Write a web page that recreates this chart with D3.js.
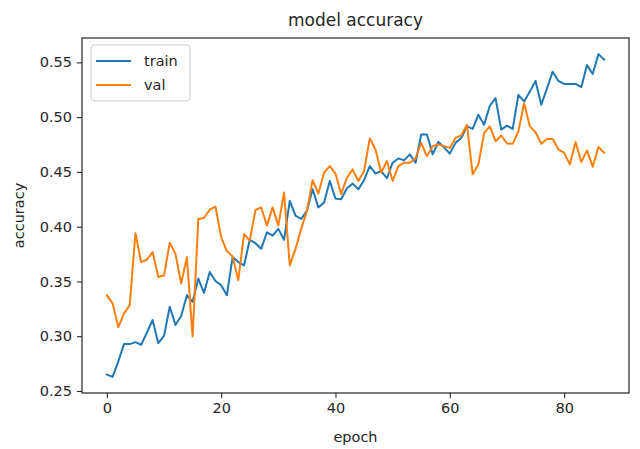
<!DOCTYPE html>
<html>
<head>
<meta charset="utf-8">
<script src="https://cdnjs.cloudflare.com/ajax/libs/d3/7.8.5/d3.min.js"></script>
<style>
  body { margin: 0; background: #fff; }
  text { font-family: "DejaVu Sans", sans-serif; fill: #262626; }
</style>
</head>
<body>
<script>
// values, one per epoch
var train = [0.2650, 0.2629, 0.2770, 0.2928, 0.2928, 0.2946, 0.2922, 0.3033, 0.3148, 0.2937,
  0.3003, 0.3269, 0.3103, 0.3184, 0.3375, 0.3314, 0.3526, 0.3396, 0.3586, 0.3504,
  0.3466, 0.3375, 0.3722, 0.3677, 0.3647, 0.3880, 0.3849, 0.3798, 0.3949, 0.3919,
  0.3980, 0.3880, 0.4236, 0.4100, 0.4070, 0.4146, 0.4342, 0.4176, 0.4221, 0.4417,
  0.4256, 0.4250, 0.4351, 0.4393, 0.4342, 0.4424, 0.4553, 0.4484, 0.4508, 0.4442,
  0.4584, 0.4623, 0.4605, 0.4660, 0.4584, 0.4841, 0.4841, 0.4660, 0.4774, 0.4724,
  0.4667, 0.4765, 0.4810, 0.4916, 0.4892, 0.5022, 0.4931, 0.5104, 0.5173, 0.4886,
  0.4922, 0.4892, 0.5203, 0.5143, 0.5233, 0.5330, 0.5113, 0.5263, 0.5415, 0.5330,
  0.5303, 0.5302, 0.5303, 0.5273, 0.5475, 0.5394, 0.5575, 0.5526]
var val = [0.3375, 0.3300, 0.3082, 0.3209, 0.3284, 0.3940, 0.3677, 0.3699, 0.3768, 0.3541,
  0.3556, 0.3853, 0.3753, 0.3481, 0.3722, 0.2997, 0.4070, 0.4079, 0.4155, 0.4182,
  0.3903, 0.3777, 0.3728, 0.3511, 0.3934, 0.3873, 0.4152, 0.4176, 0.4010, 0.4176,
  0.4010, 0.4312, 0.3647, 0.3798, 0.3980, 0.4146, 0.4424, 0.4303, 0.4493, 0.4553,
  0.4485, 0.4297, 0.4448, 0.4523, 0.4417, 0.4508, 0.4805, 0.4705, 0.4493, 0.4599,
  0.4417, 0.4553, 0.4584, 0.4584, 0.4623, 0.4765, 0.4644, 0.4735, 0.4750, 0.4735,
  0.4719, 0.4810, 0.4832, 0.4931, 0.4478, 0.4569, 0.4855, 0.4916, 0.4780, 0.4832,
  0.4759, 0.4756, 0.4871, 0.5127, 0.4916, 0.4862, 0.4756, 0.4801, 0.4801, 0.4705,
  0.4674, 0.4569, 0.4774, 0.4590, 0.4696, 0.4547, 0.4728, 0.4674]
var seriesNames = ["train", "val"]
var xTicks = [0, 20, 40, 60, 80]
var yTicks = [0.25, 0.30, 0.35, 0.40, 0.45, 0.50, 0.55]

var margin = {top: 38, right: 11, bottom: 56, left: 82},
    width = 640 - margin.left - margin.right,
    height = 449 - margin.top - margin.bottom;

var colors = ["#1f77b4", "#ff7f0e"]

var svg = d3.select("body").append("svg")
    .attr("width", 640)
    .attr("height", 449)

var g = svg.append("g")
    .attr("transform", "translate(" + margin.left + "," + margin.top + ")")

// matplotlib style 5% margins around the data
var n = train.length - 1
var all = train.concat(val)
var ymin = d3.min(all), ymax = d3.max(all), pad = (ymax - ymin) * 0.05

var x = d3.scaleLinear().domain([-0.05 * n, n * 1.05]).range([0, width])
var y = d3.scaleLinear().domain([ymin - pad, ymax + pad]).range([height, 0])

var line = d3.line()
    .x(function(d, i) { return x(i) })
    .y(function(d) { return y(d) })

g.selectAll(".series")
  .data([train, val])
  .enter().append("path")
    .attr("class", "series")
    .attr("d", line)
    .attr("fill", "none")
    .attr("stroke", function(d, i) { return colors[i] })
    .attr("stroke-width", 2)
    .attr("stroke-linejoin", "round")
    .attr("stroke-linecap", "square")

var xAxis = g.append("g")
    .attr("transform", "translate(0," + height + ")")
    .call(d3.axisBottom(x).tickValues(xTicks).tickSize(5).tickPadding(5).tickFormat(d3.format("d")))
var yAxis = g.append("g")
    .call(d3.axisLeft(y).tickValues(yTicks).tickSize(5).tickPadding(5).tickFormat(d3.format(".2f")))

;[xAxis, yAxis].forEach(function(a) {
  a.select(".domain").remove()
  a.selectAll("line").attr("stroke", "#262626").attr("stroke-width", 1.1)
  a.selectAll("text").style("font-size", "14.5px").attr("fill", "#262626")
})

// frame
g.append("rect")
    .attr("width", width)
    .attr("height", height)
    .attr("fill", "none")
    .attr("stroke", "#262626")
    .attr("stroke-width", 1.2)

svg.append("text")
    .attr("x", margin.left + width / 2)
    .attr("y", 26)
    .attr("text-anchor", "middle")
    .style("font-size", "17px")
    .text("model accuracy")

svg.append("text")
    .attr("x", margin.left + width / 2)
    .attr("y", 442)
    .attr("text-anchor", "middle")
    .style("font-size", "14.5px")
    .text("epoch")

svg.append("text")
    .attr("transform", "translate(24," + (margin.top + height / 2) + ") rotate(-90)")
    .attr("text-anchor", "middle")
    .style("font-size", "14.5px")
    .text("accuracy")

// legend
var legend = g.append("g").attr("transform", "translate(9,7)")
legend.append("rect")
    .attr("width", 99)
    .attr("height", 56)
    .attr("rx", 3)
    .attr("fill", "#fff")
    .attr("fill-opacity", 0.8)
    .attr("stroke", "#cccccc")

var items = legend.selectAll(".item")
  .data(seriesNames)
  .enter().append("g")
    .attr("class", "item")
    .attr("transform", function(d, i) { return "translate(0," + (16 + i * 24) + ")" })

items.append("line")
    .attr("x1", 5).attr("x2", 40)
    .attr("stroke", function(d, i) { return colors[i] })
    .attr("stroke-width", 2)
items.append("text")
    .attr("x", 53)
    .attr("dy", "0.35em")
    .style("font-size", "14.5px")
    .text(function(d) { return d })
</script>
</body>
</html>
